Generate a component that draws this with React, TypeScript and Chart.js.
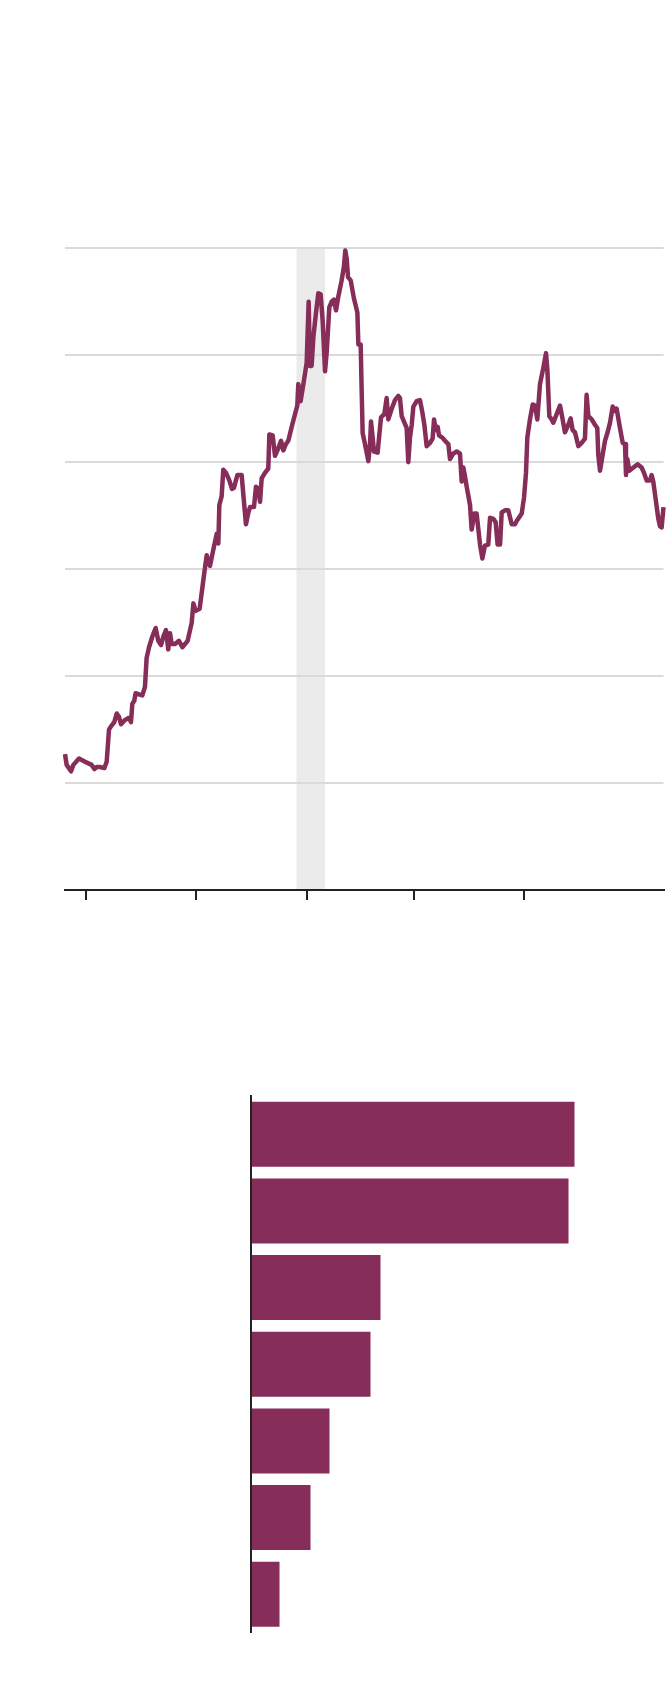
import React, { useEffect, useRef } from 'react';
import { Chart, registerables } from 'chart.js';

Chart.register(...registerables);

// ---------- line chart data (x in years from series start, y in gridline units) ----------
const lineTimes = [
  0, 0.015, 0.055, 0.076, 0.127, 0.182, 0.242, 0.267, 0.288, 0.318, 0.358, 0.379, 0.4, 0.418, 0.448,
  0.47, 0.491, 0.509, 0.545, 0.582, 0.6, 0.612, 0.63, 0.642, 0.673, 0.703, 0.727, 0.742, 0.764, 0.794,
  0.824, 0.848, 0.873, 0.894, 0.918, 0.939, 0.955, 0.97, 1.0, 1.036, 1.067, 1.091, 1.115, 1.152, 1.167,
  1.188, 1.224, 1.258, 1.288, 1.318, 1.348, 1.379, 1.394,
  1.403, 1.424, 1.439, 1.464, 1.494, 1.518, 1.536, 1.567, 1.606, 1.621, 1.645, 1.667, 1.682, 1.718,
  1.736, 1.758, 1.773, 1.788, 1.818, 1.848, 1.858, 1.888, 1.909, 1.939, 1.964, 1.985, 2.009, 2.03,
  2.061, 2.091, 2.112, 2.121, 2.142, 2.167, 2.197, 2.215, 2.227, 2.242, 2.258, 2.282, 2.303, 2.324,
  2.342, 2.364, 2.379, 2.403, 2.424, 2.445, 2.464, 2.485, 2.515, 2.536, 2.548, 2.561, 2.573, 2.597,
  2.627, 2.658, 2.667, 2.688, 2.697, 2.706, 2.727, 2.758, 2.773, 2.782, 2.797, 2.809,
  2.842, 2.873, 2.903, 2.924, 2.939, 2.97, 3.0, 3.03, 3.045, 3.061, 3.106, 3.121, 3.136, 3.152, 3.167,
  3.197, 3.227, 3.248, 3.267, 3.288, 3.318, 3.342, 3.355, 3.37, 3.388, 3.4, 3.43, 3.455, 3.485, 3.5,
  3.53, 3.561, 3.591, 3.606, 3.621, 3.636, 3.652, 3.682, 3.697, 3.721, 3.742, 3.773, 3.794, 3.818,
  3.848, 3.864, 3.894, 3.915, 3.933, 3.955, 3.97, 4.0, 4.03, 4.061, 4.091,
  4.106, 4.152, 4.173, 4.191, 4.203, 4.227, 4.252, 4.273, 4.294, 4.318, 4.348, 4.373, 4.385, 4.403,
  4.424, 4.439, 4.47, 4.5, 4.524, 4.545, 4.576, 4.597, 4.615, 4.636, 4.667, 4.697, 4.727, 4.742, 4.758,
  4.788, 4.818, 4.839, 4.848, 4.864, 4.888, 4.909, 4.933, 4.955, 4.979, 5.0, 5.015, 5.045, 5.07, 5.091,
  5.1, 5.112, 5.13, 5.167, 5.206, 5.242, 5.264, 5.288, 5.318, 5.333, 5.348, 5.373, 5.394, 5.409, 5.424,
  5.441,
];

const lineValues = [
  1.27, 1.17, 1.11, 1.17, 1.23, 1.2, 1.17, 1.13, 1.15, 1.15, 1.14, 1.2, 1.5, 1.53, 1.57,
  1.65, 1.62, 1.55, 1.59, 1.61, 1.57, 1.74, 1.77, 1.84, 1.83, 1.82, 1.9, 2.17, 2.27, 2.37,
  2.45, 2.33, 2.29, 2.37, 2.43, 2.25, 2.4, 2.3, 2.3, 2.33, 2.27, 2.3, 2.33, 2.5, 2.68,
  2.61, 2.63, 2.9, 3.13, 3.03, 3.18, 3.33, 3.24,
  3.6, 3.68, 3.93, 3.9, 3.83, 3.75, 3.76, 3.88, 3.88, 3.7, 3.42, 3.53, 3.58, 3.58,
  3.77, 3.75, 3.63, 3.85, 3.9, 3.94, 4.26, 4.25, 4.06, 4.13, 4.2, 4.11, 4.17, 4.2,
  4.33, 4.45, 4.53, 4.73, 4.57, 4.73, 4.93, 5.5, 4.9, 4.9, 5.17, 5.4, 5.58, 5.57,
  5.33, 4.85, 5.03, 5.45, 5.5, 5.52, 5.42, 5.55, 5.7, 5.83, 5.98, 5.9, 5.73, 5.7,
  5.53, 5.4, 5.1, 5.1, 4.67, 4.27, 4.17, 4.01, 4.17, 4.38, 4.23, 4.1,
  4.09, 4.42, 4.45, 4.6, 4.4, 4.5, 4.58, 4.62, 4.6, 4.43, 4.32, 4.0, 4.23, 4.35, 4.52,
  4.57, 4.58, 4.47, 4.35, 4.15, 4.18, 4.22, 4.4, 4.3, 4.33, 4.25, 4.23, 4.2, 4.17, 4.03,
  4.08, 4.1, 4.08, 3.82, 3.95, 3.87, 3.77, 3.6, 3.37, 3.52, 3.52, 3.23, 3.1, 3.22,
  3.23, 3.48, 3.47, 3.44, 3.23, 3.23, 3.53, 3.55, 3.55, 3.42, 3.42,
  3.45, 3.52, 3.67, 3.9, 4.23, 4.4, 4.54, 4.53, 4.4, 4.73, 4.88, 5.02, 4.87, 4.43,
  4.4, 4.37, 4.45, 4.53, 4.4, 4.28, 4.35, 4.41, 4.3, 4.28, 4.15, 4.18, 4.22, 4.63, 4.43,
  4.4, 4.35, 4.32, 4.07, 3.92, 4.07, 4.2, 4.28, 4.37, 4.52, 4.48, 4.5, 4.32, 4.18, 4.17,
  3.88, 4.03, 3.92, 3.95, 3.98, 3.95, 3.9, 3.83, 3.83, 3.88, 3.82, 3.63, 3.47, 3.4, 3.39,
  3.58,
];

const xTickValues = [0.188, 1.193, 2.198, 3.17, 4.175];
const xRange = [0, 5.441];
const yRange = [0, 6];
const shadedBand = [2.105, 2.364];

// ---------- bar chart data ----------
const barCategories = ['1', '2', '3', '4', '5', '6', '7'];
const barValues = [32.4, 31.8, 13.0, 12.0, 7.9, 6.0, 2.9];
const barMax = 41;

const MAROON = '#862d59';

export default function App() {
  const lineRef = useRef<HTMLCanvasElement | null>(null);
  const barRef = useRef<HTMLCanvasElement | null>(null);

  useEffect(() => {
    const bandPlugin = {
      id: 'shadedBand',
      beforeDraw(chart: any) {
        const { ctx, chartArea, scales } = chart;
        const x0 = scales.x.getPixelForValue(shadedBand[0]);
        const x1 = scales.x.getPixelForValue(shadedBand[1]);
        ctx.save();
        ctx.fillStyle = '#ebebeb';
        ctx.fillRect(x0, chartArea.top, x1 - x0, chartArea.bottom - chartArea.top);
        ctx.restore();
      },
    };

    const lineChart = new Chart(lineRef.current as HTMLCanvasElement, {
      type: 'line',
      data: {
        datasets: [
          {
            data: lineTimes.map((t, i) => ({ x: t, y: lineValues[i] })),
            borderColor: MAROON,
            borderWidth: 4.5,
            pointRadius: 0,
            tension: 0,
            clip: false as any,
            borderJoinStyle: 'round',
            borderCapStyle: 'butt',
            fill: false,
          },
        ],
      },
      options: {
        responsive: false,
        animation: false,
        devicePixelRatio: 1,
        events: [],
        layout: { padding: { left: 65, right: 6.5, top: 48.3, bottom: 20 } },
        plugins: { legend: { display: false }, tooltip: { enabled: false } },
        scales: {
          x: {
            type: 'linear',
            min: xRange[0],
            max: xRange[1],
            afterBuildTicks: (s: any) => {
              s.ticks = xTickValues.map((v) => ({ value: v }));
            },
            ticks: { display: false },
            grid: { drawOnChartArea: false, drawTicks: true, tickLength: 10, color: '#222', lineWidth: 2 },
            border: { display: true, color: '#222', width: 2 },
          },
          y: {
            min: yRange[0],
            max: yRange[1],
            ticks: { display: false, stepSize: 1 },
            grid: {
              color: (c: any) => (c.tick && c.tick.value === 0 ? 'rgba(0,0,0,0)' : '#dadada'),
              lineWidth: 2,
              drawTicks: false,
            },
            border: { display: false },
          },
        },
      } as any,
      plugins: [bandPlugin],
    });

    const barChart = new Chart(barRef.current as HTMLCanvasElement, {
      type: 'bar',
      data: {
        labels: barCategories,
        datasets: [
          {
            data: barValues,
            backgroundColor: MAROON,
            borderWidth: 0,
            barPercentage: 65 / 76.64,
            categoryPercentage: 1,
          },
        ],
      },
      options: {
        indexAxis: 'y',
        responsive: false,
        animation: false,
        devicePixelRatio: 1,
        events: [],
        layout: { padding: { left: 250.5, right: 9.5, top: 16, bottom: 27.5 } },
        plugins: { legend: { display: false }, tooltip: { enabled: false } },
        scales: {
          x: { display: false, min: 0, max: barMax },
          y: {
            z: 1,
            ticks: { display: false },
            grid: { display: false, drawTicks: false },
            border: { display: true, color: '#222', width: 2, z: 1 },
          },
        },
      } as any,
    });

    return () => {
      lineChart.destroy();
      barChart.destroy();
    };
  }, []);

  return (
    <div style={{ position: 'absolute', left: 0, top: 0, width: 670, height: 1694, background: '#fff' }}>
      <canvas
        ref={lineRef}
        width={670}
        height={720}
        style={{ position: 'absolute', left: 0, top: 200, width: 670, height: 720, display: 'block' }}
      />
      <canvas
        ref={barRef}
        width={670}
        height={580}
        style={{ position: 'absolute', left: 0, top: 1080, width: 670, height: 580, display: 'block' }}
      />
    </div>
  );
}
